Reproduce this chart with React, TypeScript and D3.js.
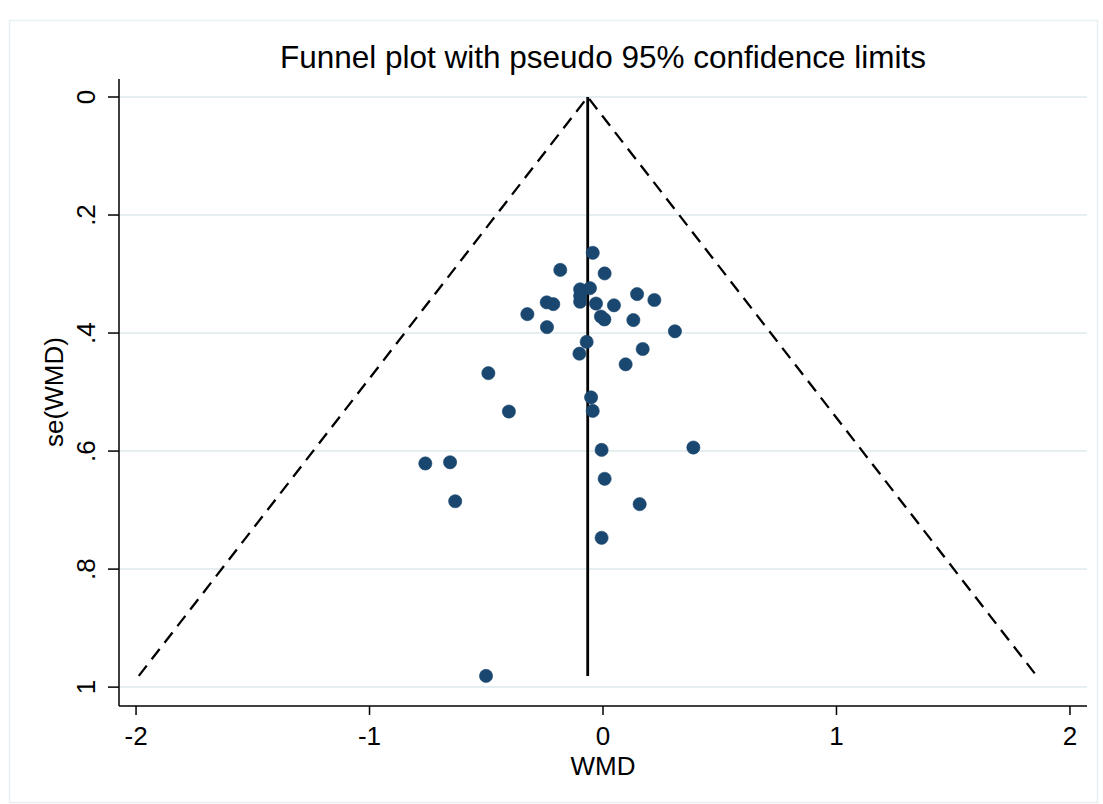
import React from "react";
import * as d3 from "d3";

// Study estimates
const wmd: number[] = [
  -0.044, -0.183, 0.007, -0.098, -0.056, -0.098, -0.098, -0.241, -0.213, -0.03,
  0.047, 0.146, 0.22, -0.324, -0.009, 0.006, 0.13, -0.24, 0.308, -0.07,
  -0.101, 0.17, 0.097, -0.491, -0.051, -0.044, -0.403, -0.006, 0.387, -0.761,
  -0.655, 0.007, -0.633, 0.157, -0.006, -0.501,
];
const seWmd: number[] = [
  0.264, 0.293, 0.299, 0.326, 0.324, 0.337, 0.347, 0.348, 0.351, 0.35,
  0.353, 0.334, 0.344, 0.368, 0.372, 0.377, 0.378, 0.39, 0.397, 0.415,
  0.435, 0.427, 0.453, 0.468, 0.509, 0.532, 0.533, 0.598, 0.594, 0.621,
  0.619, 0.647, 0.685, 0.69, 0.747, 0.981,
];
const pooledWmd = -0.0655;
const xTicks: number[] = [-2, -1, 0, 1, 2];
const xTickLabels: string[] = ["-2", "-1", "0", "1", "2"];
const yTicks: number[] = [0, 0.2, 0.4, 0.6, 0.8, 1];
const yTickLabels: string[] = ["0", ".2", ".4", ".6", ".8", "1"];
const title = "Funnel plot with pseudo 95% confidence limits";
const xTitle = "WMD";
const yTitle = "se(WMD)";

const W = 1103;
const H = 804;
const FONT = "'Liberation Sans', Arial, sans-serif";

export default function App() {
  const x = d3.scaleLinear().domain([-2.073, 2.073]).range([119, 1087]);
  const y = d3.scaleLinear().domain([-0.0305, 1.032]).range([79, 706]);
  const maxSe = d3.max(seWmd) as number;

  const line = d3
    .line<[number, number]>()
    .x((d) => x(d[0]))
    .y((d) => y(d[1]));
  const funnel: [number, number][] = [
    [pooledWmd - 1.96 * maxSe, maxSe],
    [pooledWmd, 0],
    [pooledWmd + 1.96 * maxSe, maxSe],
  ];
  const center: [number, number][] = [
    [pooledWmd, 0],
    [pooledWmd, maxSe],
  ];

  const [x0, x1] = x.range();
  const [y0, y1] = y.range();

  return (
    <svg
      width={W}
      height={H}
      style={{ position: "absolute", left: 0, top: 0, background: "#fff" }}
      fontFamily={FONT}
    >
      <rect x={0} y={0} width={W} height={H} fill="#ffffff" />
      <rect x={9.5} y={20.5} width={1088} height={782} fill="none" stroke="#e6eff1" strokeWidth={1.5} />

      {/* title */}
      <text x={603} y={68} textAnchor="middle" fontSize={31.5} fill="#000">
        {title}
      </text>

      {/* grid lines */}
      {yTicks.map((t) => (
        <line key={"g" + t} x1={x0 + 1} x2={x1} y1={y(t)} y2={y(t)} stroke="#dde8ec" strokeWidth={1.5} />
      ))}

      {/* funnel lines */}
      <path d={line(funnel) || ""} fill="none" stroke="#000" strokeWidth={2.3} strokeDasharray="13 8" />
      <path d={line(center) || ""} fill="none" stroke="#000" strokeWidth={2.8} />

      {/* points */}
      {wmd.map((v, i) => (
        <circle key={"p" + i} cx={x(v)} cy={y(seWmd[i])} r={6.6} fill="#1a476f" stroke="#1a476f" strokeWidth={0.6} />
      ))}

      {/* axes */}
      <line x1={x0} x2={x0} y1={y0} y2={y1} stroke="#000" strokeWidth={1.5} />
      <line x1={x0} x2={x1} y1={y1} y2={y1} stroke="#000" strokeWidth={1.5} />

      {yTicks.map((t, i) => (
        <g key={"yt" + t}>
          <line x1={x0 - 11} x2={x0} y1={y(t)} y2={y(t)} stroke="#000" strokeWidth={1.5} />
          <text
            transform={`translate(95,${y(t)}) rotate(-90)`}
            textAnchor="middle"
            fontSize={26}
            fill="#000"
          >
            {yTickLabels[i]}
          </text>
        </g>
      ))}

      {xTicks.map((t, i) => (
        <g key={"xt" + t}>
          <line x1={x(t)} x2={x(t)} y1={y1} y2={y1 + 9} stroke="#000" strokeWidth={1.5} />
          <text x={x(t)} y={745} textAnchor="middle" fontSize={26} fill="#000">
            {xTickLabels[i]}
          </text>
        </g>
      ))}

      <text x={603} y={775} textAnchor="middle" fontSize={26} fill="#000">
        {xTitle}
      </text>
      <text transform={`translate(63,392) rotate(-90)`} textAnchor="middle" fontSize={26} fill="#000">
        {yTitle}
      </text>
    </svg>
  );
}
